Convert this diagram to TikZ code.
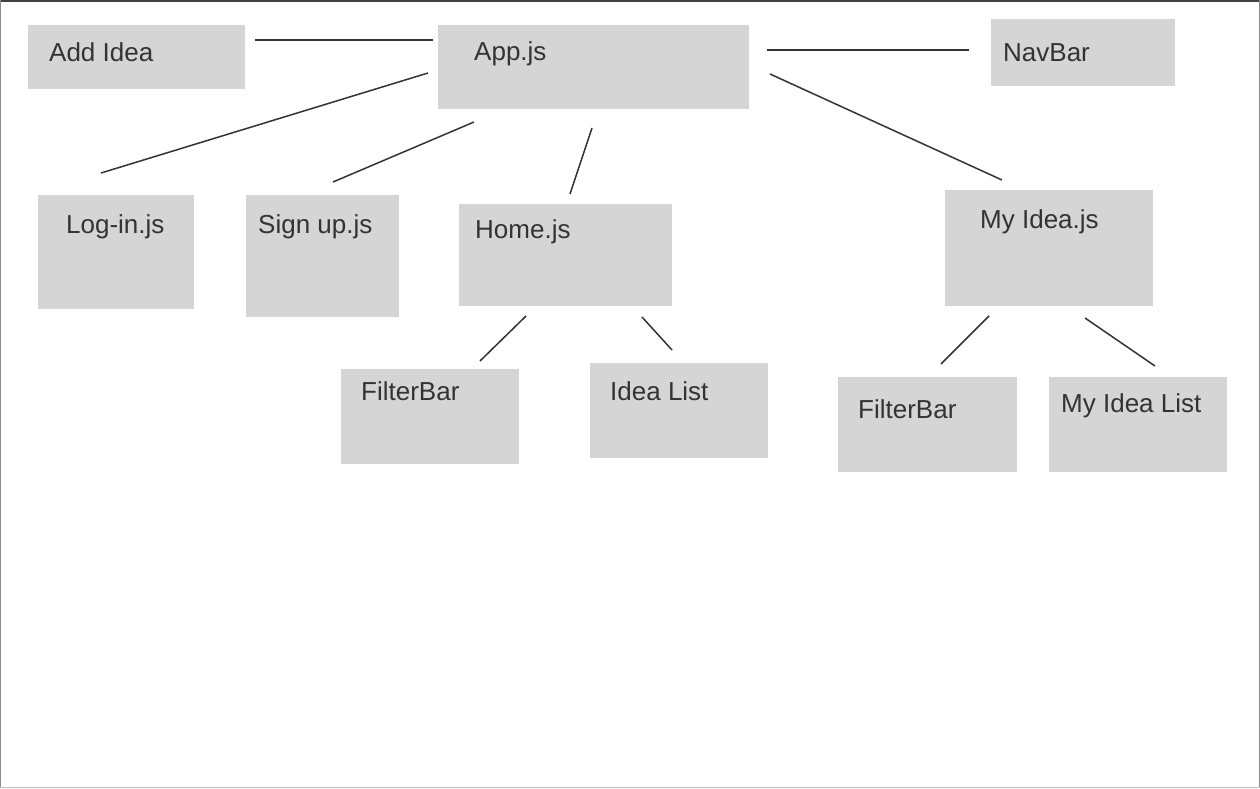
\documentclass[tikz,border=0pt]{standalone}
\usepackage{fontspec}
\setmainfont{Liberation Sans}
\definecolor{boxfill}{HTML}{D5D5D5}
\definecolor{linecol}{HTML}{333333}
\tikzset{
  box/.style={draw=none, fill=boxfill, rectangle, inner sep=0pt, outer sep=0pt},
  lbl/.style={anchor=base west, inner sep=0pt, text=linecol, font=\fontsize{26}{30}\selectfont},
  conn/.style={draw=linecol, line width=1.5pt},
}
\newcommand{\boxat}[5]{% name, x1, y1, x2, y2
  \path[box] (#2,#3) rectangle (#4,#5);
  \coordinate (#1) at ({(#2+#4)/2},{(#3+#5)/2});
}
\begin{document}
\begin{tikzpicture}[x=1pt,y=-1pt]
\useasboundingbox (0,0) rectangle (1260,788);
\fill[white] (0,0) rectangle (1260,788);
% window frame
\draw[color=black!75, line width=2pt] (0,1) -- (1260,1);
\draw[color=black!45, line width=1.2pt] (0.6,0) -- (0.6,788);
\draw[color=black!45, line width=1.2pt] (1259.4,0) -- (1259.4,788);
\draw[color=black!25, line width=1.5pt] (0,787.3) -- (1260,787.3);

% boxes
\node[box, minimum width=217pt, minimum height=64pt, anchor=north west] (addidea) at (28,25) {};
\node[box, minimum width=311pt, minimum height=84pt, anchor=north west] (app) at (438,25) {};
\node[box, minimum width=184pt, minimum height=67pt, anchor=north west] (navbar) at (991,19) {};
\node[box, minimum width=156pt, minimum height=114pt, anchor=north west] (login) at (38,195) {};
\node[box, minimum width=153pt, minimum height=122pt, anchor=north west] (signup) at (246,195) {};
\node[box, minimum width=213pt, minimum height=102pt, anchor=north west] (home) at (459,204) {};
\node[box, minimum width=208pt, minimum height=116pt, anchor=north west] (myidea) at (945,190) {};
\node[box, minimum width=178pt, minimum height=95pt, anchor=north west] (filterA) at (341,369) {};
\node[box, minimum width=178pt, minimum height=95pt, anchor=north west] (idealist) at (590,363) {};
\node[box, minimum width=179pt, minimum height=95pt, anchor=north west] (filterB) at (838,377) {};
\node[box, minimum width=178pt, minimum height=95pt, anchor=north west] (myidealist) at (1049,377) {};

% labels
\node[lbl] (t-addidea) at ([shift={(21,36)}]addidea.north west) {Add Idea};
\node[lbl] (t-app) at ([shift={(36,35)}]app.north west) {App.js};
\node[lbl] (t-navbar) at ([shift={(12,42)}]navbar.north west) {NavBar};
\node[lbl] (t-login) at ([shift={(28,38)}]login.north west) {Log-in.js};
\node[lbl] (t-signup) at ([shift={(12,38)}]signup.north west) {Sign up.js};
\node[lbl] (t-home) at ([shift={(16,34)}]home.north west) {Home.js};
\node[lbl] (t-myidea) at ([shift={(35,38)}]myidea.north west) {My Idea.js};
\node[lbl] (t-filterA) at ([shift={(20,31)}]filterA.north west) {FilterBar};
\node[lbl] (t-idealist) at ([shift={(20,37)}]idealist.north west) {Idea List};
\node[lbl] (t-filterB) at ([shift={(20,41)}]filterB.north west) {FilterBar};
\node[lbl] (t-myidealist) at ([shift={(12,35)}]myidealist.north west) {My Idea List};

% connector ends
\coordinate (c-add-a) at (255,40);   \coordinate (c-add-b) at (433,40);
\coordinate (c-nav-a) at (767,50);   \coordinate (c-nav-b) at (969,50);
\coordinate (c-log-a) at (428,73);   \coordinate (c-log-b) at (101,173);
\coordinate (c-sig-a) at (474,122);  \coordinate (c-sig-b) at (333,182);
\coordinate (c-hom-a) at (592,128);  \coordinate (c-hom-b) at (570,194);
\coordinate (c-myi-a) at (770,74);   \coordinate (c-myi-b) at (1002,180);
\coordinate (c-fa-a) at (526,316);   \coordinate (c-fa-b) at (480,361);
\coordinate (c-il-a) at (642,317);   \coordinate (c-il-b) at (672,350);
\coordinate (c-fb-a) at (989,316);   \coordinate (c-fb-b) at (941,364);
\coordinate (c-mil-a) at (1085,318); \coordinate (c-mil-b) at (1155,366);

% connectors
\draw[conn] (c-add-a) -- (c-add-b);
\draw[conn] (c-nav-a) -- (c-nav-b);
\draw[conn] (c-log-a) -- (c-log-b);
\draw[conn] (c-sig-a) -- (c-sig-b);
\draw[conn] (c-hom-a) -- (c-hom-b);
\draw[conn] (c-myi-a) -- (c-myi-b);
\draw[conn] (c-fa-a) -- (c-fa-b);
\draw[conn] (c-il-a) -- (c-il-b);
\draw[conn] (c-fb-a) -- (c-fb-b);
\draw[conn] (c-mil-a) -- (c-mil-b);
\end{tikzpicture}
\end{document}
